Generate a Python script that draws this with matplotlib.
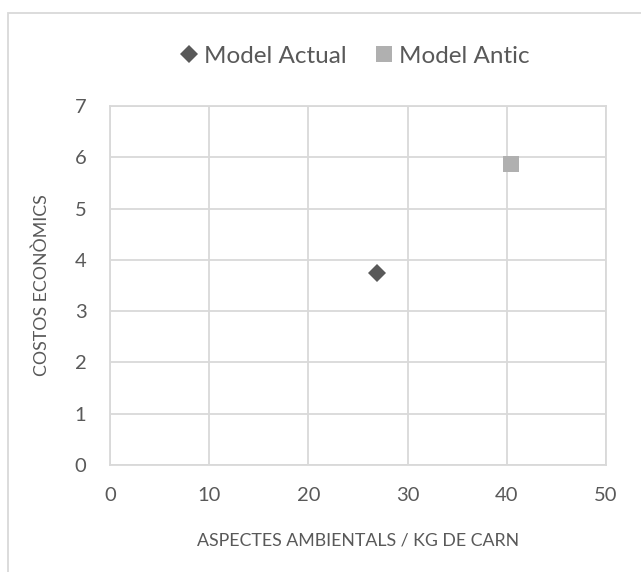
import matplotlib
matplotlib.use('Agg')
import matplotlib.pyplot as plt
from matplotlib.patches import Rectangle

plt.rcParams['font.family'] = ['Lato', 'DejaVu Sans']

series_names = ['Model Actual', 'Model Antic']
x_values = [26.9, 40.4]
y_values = [3.74, 5.87]
x_ticks = [0, 10, 20, 30, 40, 50]
y_ticks = [0, 1, 2, 3, 4, 5, 6, 7]
x_title = 'ASPECTES AMBIENTALS / KG DE CARN'
y_title = 'COSTOS ECONÒMICS'

text_grey = '#595959'
grid_grey = '#d9d9d9'
markers = ['D', 's']
marker_sizes = [9.0, 12.0]
colors = ['#595959', '#b0b0b0']

fig = plt.figure(figsize=(6.41, 5.72), dpi=100)
ax = fig.add_axes([110 / 641, 1 - 465 / 572, 496 / 641, 359 / 572])

# chart border (only left and top visible in the crop)
fig.patches.append(Rectangle((7.5 / 641, -0.1), 1.2, 1.1 - 12.7 / 572,
                             transform=fig.transFigure, fill=False,
                             edgecolor=grid_grey, linewidth=1.3))

for name, x, y, m, ms, c in zip(series_names, x_values, y_values,
                                markers, marker_sizes, colors):
    ax.plot([x], [y], linestyle='none', marker=m, markersize=ms,
            color=c, markeredgewidth=0, label=name, zorder=3)

ax.set_xlim(x_ticks[0], x_ticks[-1])
ax.set_ylim(y_ticks[0], y_ticks[-1])
ax.set_xticks(x_ticks)
ax.set_yticks(y_ticks)
ax.grid(True, color=grid_grey, linewidth=1.3)
ax.set_axisbelow(True)
for s in ax.spines.values():
    s.set_color(grid_grey)
    s.set_linewidth(1.3)
ax.tick_params(length=0, labelsize=14.5, colors=text_grey)
ax.tick_params(axis='x', pad=16)
ax.tick_params(axis='y', pad=17)

ax.set_xlabel(x_title, fontsize=12.8, color=text_grey)
ax.set_ylabel(y_title, fontsize=12.8, color=text_grey)
ax.xaxis.set_label_coords(0.5, -0.187)
ax.yaxis.set_label_coords(-0.121, 0.5)

ax.legend(loc='center', bbox_to_anchor=(0.494, 1.138), ncol=2,
          frameon=False, fontsize=17.5, labelcolor=text_grey,
          handletextpad=0.25, columnspacing=1.2, handlelength=0.7,
          borderpad=0)

fig.savefig('out.png', dpi=100)
